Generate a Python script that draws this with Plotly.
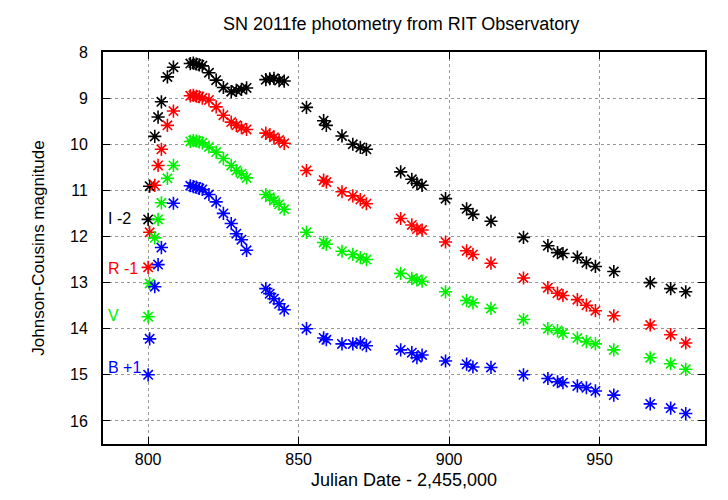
import plotly.graph_objects as go

# Julian Date - 2,455,000
dates = [800.0, 800.5, 802.2, 803.3, 804.4, 806.4, 808.4,
         814.0, 815.0, 816.0, 817.0, 818.0,
         820.2, 822.6, 825.0, 827.6, 829.3, 831.0, 832.7,
         839.1, 840.4, 841.8, 843.5, 845.2,
         852.6, 858.3, 859.2, 864.4, 868.0, 870.5, 872.5,
         883.9, 887.6, 889.3, 891.0, 898.8, 905.8, 907.9, 913.9,
         924.7, 932.8, 936.0, 937.8, 942.6, 945.6, 948.6, 954.7,
         966.8, 973.6, 978.6]

mag_I = [11.63, 10.91, 9.83, 9.41, 9.08, 8.54, 8.33,
         8.25, 8.24, 8.26, 8.28, 8.30,
         8.45, 8.61, 8.77, 8.86, 8.83, 8.81, 8.78,
         8.60, 8.58, 8.57, 8.62, 8.63,
         9.20, 9.49, 9.59, 9.82, 10.00, 10.07, 10.11,
         10.60, 10.76, 10.85, 10.89, 11.18, 11.40, 11.52, 11.67,
         12.02, 12.20, 12.35, 12.37, 12.45, 12.57, 12.65, 12.76,
         13.00, 13.13, 13.20]

mag_R = [12.67, 11.91, 10.89, 10.46, 10.11, 9.59, 9.28,
         8.95, 8.94, 8.96, 8.97, 9.00,
         9.04, 9.19, 9.37, 9.52, 9.59, 9.64, 9.68,
         9.76, 9.80, 9.85, 9.91, 9.98,
         10.57, 10.78, 10.82, 11.03, 11.12, 11.20, 11.29,
         11.61, 11.75, 11.84, 11.86, 12.12, 12.31, 12.39, 12.58,
         12.90, 13.11, 13.23, 13.28, 13.37, 13.49, 13.61, 13.72,
         13.92, 14.13, 14.31]

mag_V = [13.74, 13.02, 12.03, 11.63, 11.27, 10.74, 10.46,
         9.94, 9.92, 9.93, 9.95, 9.97,
         10.06, 10.17, 10.31, 10.46, 10.57, 10.64, 10.73,
         11.09, 11.15, 11.22, 11.30, 11.41,
         11.91, 12.13, 12.17, 12.32, 12.39, 12.46, 12.50,
         12.80, 12.91, 12.94, 12.97, 13.20, 13.39, 13.44, 13.56,
         13.80, 14.00, 14.04, 14.10, 14.20, 14.28, 14.33, 14.46,
         14.63, 14.76, 14.88]

mag_B = [15.00, 14.22, 13.09, 12.61, 12.24, None, 11.28,
         10.90, 10.92, 10.93, 10.96, 10.98,
         11.09, 11.25, 11.50, 11.72, 11.94, 12.07, 12.30,
         13.13, 13.24, 13.35, 13.46, 13.59,
         14.00, 14.20, 14.24, 14.33, 14.33, 14.30, 14.37,
         14.46, 14.52, 14.63, 14.57, 14.70, 14.77, 14.83, 14.84,
         15.00, 15.08, 15.15, 15.17, 15.24, 15.28, 15.35, 15.44,
         15.63, 15.72, 15.84]

series = [("I -2", mag_I, "#000000", 11.61),
          ("R -1", mag_R, "#ff0000", 12.70),
          ("V", mag_V, "#00f000", 13.72),
          ("B +1", mag_B, "#0000ff", 14.85)]

x_ticks = [800, 850, 900, 950]
y_ticks = [8, 9, 10, 11, 12, 13, 14, 15, 16]

FONT = "Liberation Sans, Arial, sans-serif"

fig = go.Figure()
for name, vals, color, label_y in series:
    fig.add_trace(go.Scatter(
        x=dates, y=vals, mode="markers", name=name,
        marker=dict(symbol="asterisk-open", size=11, color=color,
                    line=dict(color=color, width=1.6)),
        showlegend=False))
    fig.add_annotation(x=786.0, y=label_y, text=name, showarrow=False,
                       xanchor="left", yanchor="middle",
                       font=dict(family=FONT, size=16, color=color))

axis_common = dict(showline=True, linecolor="black", linewidth=2, mirror="ticks",
                   ticks="inside", ticklen=7, tickwidth=1, tickcolor="black",
                   showgrid=True, gridcolor="#999999", griddash="dot", gridwidth=1,
                   zeroline=False, automargin=False,
                   tickfont=dict(family=FONT, size=16, color="black"))

fig.update_xaxes(range=[785, 985], tickvals=x_ticks, ticklabelstandoff=0,
                 title=dict(text="Julian Date - 2,455,000",
                            font=dict(family=FONT, size=18, color="black"), standoff=6),
                 **axis_common)
fig.update_yaxes(range=[16.5, 8], tickvals=y_ticks, ticklabelstandoff=10,
                 title=dict(text="Johnson-Cousins magnitude",
                            font=dict(family=FONT, size=17, color="black"), standoff=21),
                 **axis_common)

fig.update_layout(
    width=720, height=492,
    margin=dict(l=95, r=23, t=44, b=56),
    paper_bgcolor="white", plot_bgcolor="white",
    title=dict(text="SN 2011fe photometry from RIT Observatory",
               x=0.546, xanchor="center", y=0.968, yanchor="middle",
               font=dict(family=FONT, size=18, color="black")),
)

fig.write_html("out.html")
